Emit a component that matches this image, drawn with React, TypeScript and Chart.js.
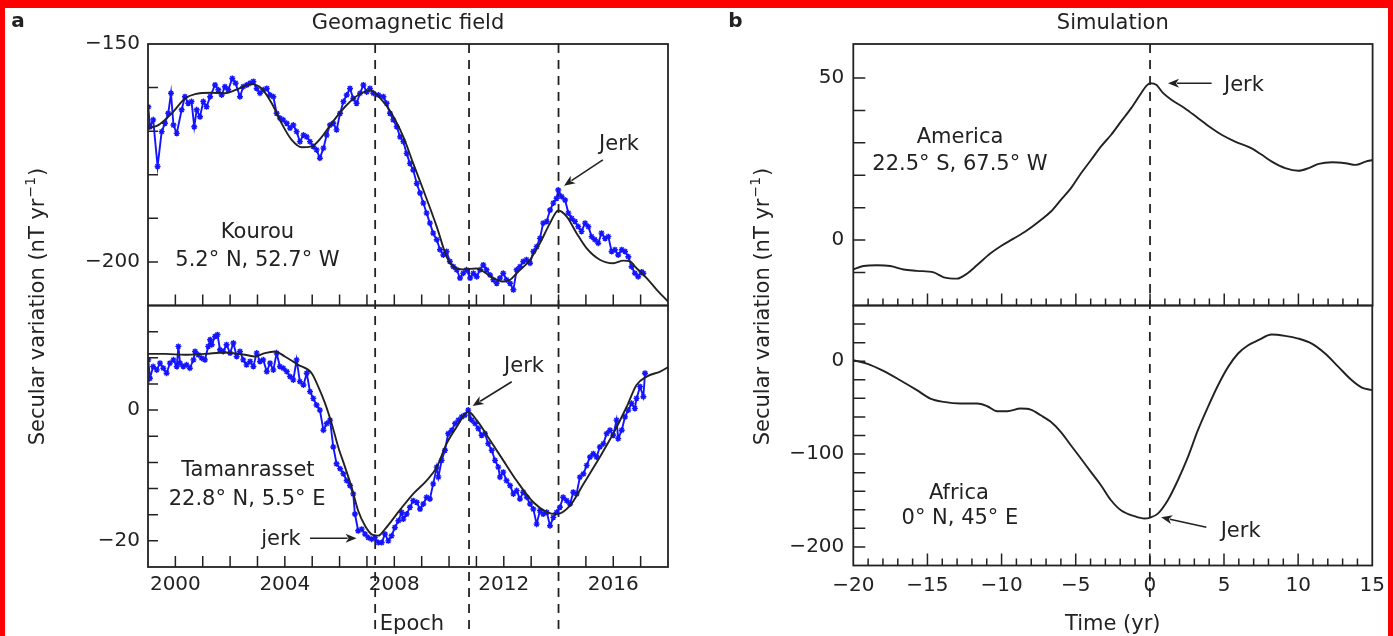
import React, { useEffect, useRef } from 'react';
import { Chart, registerables } from 'chart.js';

Chart.register(...registerables);

const PAGE_W = 1393;
const PAGE_H = 636;
const FONT = '"DejaVu Sans", "Liberation Sans", sans-serif';
const INK = '#222222';
const BLUE = '#1414ff';

type Pt = [number, number];

// ---------------- Panel a, top: Kourou ----------------
const kourouObs: Pt[] = [
  [1999.01, -164.4], [1999.07, -169.0], [1999.19, -167.4], [1999.35, -178.1], [1999.5, -170.1],
  [1999.62, -168.2], [1999.74, -165.9], [1999.84, -161.3], [1999.93, -168.6], [2000.05, -170.5],
  [2000.23, -165.1], [2000.35, -162.1], [2000.47, -163.6], [2000.59, -163.2], [2000.69, -169.0],
  [2000.78, -165.1], [2000.9, -166.7], [2001.02, -163.2], [2001.14, -164.4], [2001.27, -162.1],
  [2001.45, -159.4], [2001.57, -160.5], [2001.69, -161.7], [2001.81, -159.8], [2001.93, -160.5],
  [2002.08, -157.9], [2002.2, -159.0], [2002.36, -162.1], [2002.48, -159.8], [2002.61, -159.4],
  [2002.73, -159.0], [2002.85, -158.6], [2002.97, -160.2], [2003.09, -161.3], [2003.21, -160.5],
  [2003.34, -160.2], [2003.46, -161.7], [2003.58, -162.1], [2003.7, -165.9], [2003.82, -167.0],
  [2003.94, -167.4], [2004.07, -168.2], [2004.19, -169.3], [2004.31, -168.6], [2004.43, -170.1],
  [2004.55, -172.4], [2004.68, -170.9], [2004.8, -171.3], [2004.92, -172.4], [2005.04, -173.5],
  [2005.16, -174.3], [2005.28, -176.2], [2005.41, -173.9], [2005.53, -170.9], [2005.65, -168.6],
  [2005.77, -168.2], [2005.89, -169.7], [2006.02, -165.9], [2006.14, -163.2], [2006.26, -161.7],
  [2006.38, -160.2], [2006.5, -162.5], [2006.62, -163.6], [2006.75, -161.3], [2006.87, -159.4],
  [2006.99, -161.0], [2007.11, -160.2], [2007.23, -161.3], [2007.42, -161.7], [2007.6, -162.1],
  [2007.72, -163.6], [2007.84, -165.9], [2007.96, -167.4], [2008.09, -169.0], [2008.21, -171.3],
  [2008.33, -172.4], [2008.45, -175.1], [2008.57, -177.4], [2008.69, -178.9], [2008.82, -182.0],
  [2008.94, -184.2], [2009.06, -186.5], [2009.18, -188.8], [2009.3, -191.1], [2009.42, -193.4],
  [2009.55, -194.9], [2009.67, -197.2], [2009.79, -198.4], [2009.91, -197.6], [2010.03, -199.9],
  [2010.16, -201.1], [2010.28, -201.8], [2010.4, -203.7], [2010.52, -202.6], [2010.64, -201.8],
  [2010.77, -203.7], [2010.89, -202.6], [2011.01, -203.4], [2011.13, -201.8], [2011.25, -200.7],
  [2011.37, -201.8], [2011.5, -203.0], [2011.62, -204.1], [2011.74, -204.9], [2011.86, -203.7],
  [2011.98, -202.6], [2012.1, -204.1], [2012.23, -204.9], [2012.35, -206.4], [2012.47, -201.8],
  [2012.59, -201.1], [2012.71, -199.9], [2012.83, -199.5], [2012.96, -200.3], [2013.08, -197.6],
  [2013.2, -196.5], [2013.32, -194.6], [2013.44, -191.1], [2013.57, -190.7], [2013.69, -188.1],
  [2013.81, -186.5], [2013.93, -185.4], [2013.99, -183.5], [2014.11, -185.0], [2014.24, -185.8],
  [2014.36, -188.8], [2014.48, -190.0], [2014.6, -190.7], [2014.72, -191.9], [2014.84, -193.0],
  [2014.97, -191.1], [2015.09, -191.9], [2015.21, -194.2], [2015.33, -194.9], [2015.45, -195.7],
  [2015.57, -193.4], [2015.7, -194.6], [2015.82, -194.2], [2015.94, -197.6], [2016.06, -197.2],
  [2016.18, -198.4], [2016.31, -197.2], [2016.43, -197.6], [2016.55, -198.8], [2016.67, -201.1],
  [2016.79, -202.6], [2016.91, -203.4], [2017.04, -202.3], [2017.1, -202.6],
];

const kourouModel: Pt[] = [
  [1999.0, -169.3], [1999.38, -168.6], [1999.87, -165.9], [2000.35, -162.5], [2000.72, -161.5],
  [2001.33, -161.2], [2001.81, -161.3], [2002.18, -160.6], [2002.79, -159.2], [2003.15, -160.2],
  [2003.52, -163.6], [2003.88, -168.2], [2004.25, -172.0], [2004.62, -173.7], [2004.98, -173.5],
  [2005.35, -171.3], [2005.71, -168.2], [2006.2, -164.4], [2006.68, -161.7], [2007.17, -160.7],
  [2007.45, -162.2], [2007.84, -165.3], [2008.33, -171.3], [2008.69, -177.4], [2009.06, -183.5],
  [2009.55, -191.9], [2009.91, -198.8], [2010.15, -201.1], [2010.52, -201.7], [2011.01, -201.5],
  [2011.25, -202.2], [2011.62, -203.7], [2011.98, -204.5], [2012.23, -204.1], [2012.47, -202.6],
  [2012.96, -199.5], [2013.32, -195.7], [2013.69, -191.1], [2013.99, -188.2], [2014.3, -189.6],
  [2014.66, -193.4], [2015.03, -196.9], [2015.51, -199.5], [2016.0, -200.3], [2016.37, -199.7],
  [2016.61, -199.9], [2016.86, -201.5], [2017.22, -203.7], [2017.59, -206.4], [2018.0, -209.1],
];

// ---------------- Panel a, bottom: Tamanrasset ----------------
const tamObs: Pt[] = [
  [1999.01, 7.69], [1999.07, 4.87], [1999.19, 6.67], [1999.32, 6.15], [1999.44, 7.18],
  [1999.56, 6.41], [1999.68, 5.64], [1999.8, 7.18], [1999.93, 7.69], [2000.05, 6.67],
  [2000.11, 9.74], [2000.17, 7.18], [2000.29, 6.67], [2000.41, 6.92], [2000.53, 6.41],
  [2000.66, 7.69], [2000.72, 8.97], [2000.84, 8.46], [2000.96, 7.95], [2001.08, 7.69],
  [2001.2, 9.74], [2001.27, 10.77], [2001.33, 10.0], [2001.45, 11.28], [2001.54, 11.54],
  [2001.63, 9.23], [2001.75, 8.97], [2001.87, 10.0], [2002.0, 8.72], [2002.12, 10.26],
  [2002.24, 8.21], [2002.36, 8.97], [2002.48, 7.69], [2002.6, 6.92], [2002.73, 7.44],
  [2002.85, 6.67], [2002.97, 8.72], [2003.09, 7.44], [2003.21, 7.69], [2003.34, 5.9],
  [2003.46, 7.18], [2003.58, 6.15], [2003.7, 8.72], [2003.82, 6.67], [2003.94, 6.41],
  [2004.07, 5.9], [2004.19, 5.13], [2004.31, 4.62], [2004.43, 7.69], [2004.55, 4.36],
  [2004.68, 3.85], [2004.8, 5.64], [2004.92, 2.82], [2005.04, 1.79], [2005.16, 0.77],
  [2005.28, 0.0], [2005.41, -3.08], [2005.53, -2.05], [2005.65, -1.54], [2005.77, -5.64],
  [2005.89, -8.21], [2006.02, -8.97], [2006.14, -9.74], [2006.26, -10.77], [2006.38, -11.54],
  [2006.5, -12.82], [2006.56, -15.9], [2006.68, -18.46], [2006.81, -18.21], [2006.93, -18.97],
  [2007.05, -19.5], [2007.17, -19.74], [2007.29, -19.5], [2007.42, -20.26], [2007.54, -20.26],
  [2007.66, -18.97], [2007.78, -20.0], [2007.9, -19.23], [2008.02, -17.95], [2008.15, -16.92],
  [2008.27, -15.64], [2008.33, -16.67], [2008.45, -15.9], [2008.57, -14.87], [2008.69, -13.85],
  [2008.82, -14.1], [2008.94, -15.13], [2009.06, -14.36], [2009.18, -13.33], [2009.3, -13.59],
  [2009.42, -11.28], [2009.55, -8.72], [2009.61, -10.26], [2009.73, -7.69], [2009.85, -6.15],
  [2009.97, -3.59], [2010.1, -3.08], [2010.22, -2.05], [2010.34, -1.54], [2010.46, -1.03],
  [2010.58, -0.77], [2010.7, 0.0], [2010.83, -1.54], [2010.95, -2.05], [2011.07, -2.82],
  [2011.19, -3.85], [2011.31, -3.59], [2011.43, -5.13], [2011.56, -6.15], [2011.68, -7.69],
  [2011.8, -8.72], [2011.86, -10.26], [2011.98, -9.49], [2012.1, -10.77], [2012.23, -11.54],
  [2012.35, -12.82], [2012.47, -12.31], [2012.59, -13.59], [2012.71, -12.56], [2012.84, -13.33],
  [2012.96, -14.36], [2013.08, -15.13], [2013.2, -17.44], [2013.32, -15.38], [2013.44, -15.9],
  [2013.57, -15.64], [2013.69, -17.69], [2013.81, -16.41], [2013.93, -15.64], [2014.05, -14.87],
  [2014.17, -13.33], [2014.3, -13.85], [2014.42, -14.36], [2014.54, -12.56], [2014.66, -12.82],
  [2014.78, -10.26], [2014.91, -9.74], [2015.03, -8.46], [2015.15, -7.18], [2015.27, -6.67],
  [2015.39, -7.18], [2015.51, -5.64], [2015.64, -5.13], [2015.76, -3.59], [2015.88, -3.08],
  [2016.0, -3.85], [2016.12, -1.54], [2016.18, -4.36], [2016.31, -3.08], [2016.43, -1.03],
  [2016.55, 0.0], [2016.67, 1.03], [2016.79, 0.26], [2016.85, 1.79], [2016.98, 3.59],
  [2017.1, 2.05], [2017.16, 5.64],
];

const tamModel: Pt[] = [
  [1999.0, 8.6], [1999.62, 8.6], [2000.35, 8.46], [2001.08, 8.6], [2001.81, 8.82],
  [2002.54, 8.46], [2002.91, 8.2], [2003.27, 8.72], [2003.64, 8.97], [2004.0, 8.2],
  [2004.49, 6.92], [2004.98, 5.64], [2005.22, 3.59], [2005.47, 1.03], [2005.71, -2.05],
  [2005.95, -5.64], [2006.2, -8.72], [2006.44, -11.8], [2006.68, -15.4], [2006.93, -17.7],
  [2007.17, -19.0], [2007.41, -19.2], [2007.66, -18.2], [2008.2, -15.3], [2008.69, -12.8],
  [2009.18, -10.8], [2009.55, -8.72], [2009.91, -5.13], [2010.28, -2.56], [2010.7, -0.26],
  [2011.01, -1.54], [2011.5, -4.62], [2011.98, -7.69], [2012.47, -10.8], [2013.08, -14.1],
  [2013.57, -15.6], [2013.93, -15.9], [2014.42, -14.6], [2014.91, -11.3], [2015.51, -7.18],
  [2016.0, -3.59], [2016.49, 0.51], [2016.85, 3.85], [2017.22, 5.13], [2017.71, 5.9],
  [2018.0, 6.56],
];

// ---------------- Panel b: simulation ----------------
const americaSim: Pt[] = [
  [-20, -9.1], [-19.32, -8.0], [-18.42, -7.8], [-17.51, -8.0], [-16.61, -9.1], [-15.71, -9.5],
  [-14.58, -10.0], [-13.9, -11.5], [-13.0, -11.9], [-12.32, -10.3], [-11.65, -7.7], [-10.75, -4.1],
  [-10.07, -1.9], [-9.17, 0.5], [-8.26, 3.1], [-7.36, 6.2], [-6.68, 8.8], [-6.01, 12.4],
  [-5.33, 16.0], [-4.65, 20.6], [-3.98, 24.7], [-3.3, 28.9], [-2.62, 32.5], [-1.95, 36.6],
  [-1.27, 40.7], [-0.59, 45.4], [-0.25, 47.6], [0.02, 48.4], [0.42, 47.9], [0.87, 45.4],
  [1.44, 43.3], [2.34, 40.7], [3.24, 37.6], [4.15, 34.5], [4.82, 32.5], [5.73, 30.4],
  [6.85, 28.3], [7.53, 26.3], [8.21, 24.2], [9.11, 22.2], [10.01, 21.4], [10.69, 22.2],
  [11.37, 23.5], [12.27, 24.0], [13.17, 23.7], [13.85, 23.2], [14.53, 24.2], [15.0, 24.7],
];

const africaSim: Pt[] = [
  [-20, 1.0], [-19.09, -2.5], [-17.97, -10.4], [-16.84, -20.5], [-15.71, -31.2], [-14.81, -40.2],
  [-13.9, -43.8], [-12.78, -45.6], [-11.65, -45.6], [-10.97, -48.5], [-10.29, -53.9], [-9.62, -53.9],
  [-8.71, -51.0], [-8.04, -52.1], [-7.36, -58.2], [-6.68, -65.3], [-6.01, -76.1], [-5.33, -90.5],
  [-4.65, -104.8], [-3.98, -119.2], [-3.3, -133.5], [-2.62, -149.7], [-1.95, -160.5], [-1.04, -166.9],
  [-0.37, -169.4], [0.02, -168.4], [0.54, -164.1], [1.21, -149.7], [1.89, -128.2], [2.57, -103.0],
  [3.24, -74.3], [3.92, -49.2], [4.6, -25.9], [5.28, -6.1], [5.95, 8.3], [6.63, 17.2],
  [7.31, 22.6], [8.21, 28.7], [9.11, 27.3], [10.01, 24.4], [10.92, 19.0], [11.82, 8.3],
  [12.72, -6.1], [13.62, -20.5], [14.3, -28.4], [15.0, -31.2],
];

// ---------------- Ticks ----------------
const yearTicks = [2000, 2001, 2002, 2003, 2004, 2005, 2006, 2007, 2008, 2009, 2010, 2011, 2012, 2013, 2014, 2015, 2016, 2017];
const yearLabels = [2000, 2004, 2008, 2012, 2016];
const jerkEpochs = [2007.3, 2010.73, 2014.0];
const timeTicks = [-20, -19, -18, -17, -16, -15, -14, -13, -12, -11, -10, -9, -8, -7, -6, -5, -4, -3, -2, -1, 0,
  1, 2, 3, 4, 5, 6, 7, 8, 9, 10, 11, 12, 13, 14, 15];
const timeLabels = [-20, -15, -10, -5, 0, 5, 10, 15];
const simJerk = [0];
const kourouTicks = [-200, -190, -180, -170, -160, -150];
const kourouLabels = [-200, -150];
const tamTicks = [-20, -16, -12, -8, -4, 0, 4, 8, 12];
const tamLabels = [-20, 0];
const americaTicks = [-10, 0, 10, 20, 30, 40, 50];
const americaLabels = [0, 50];
const africaTicks = [-200, -180, -160, -140, -120, -100, -80, -60, -40, -20, 0, 20, 40];
const africaLabels = [-200, -100, 0];

const fmt = (v: number) => (v < 0 ? '\u2212' + Math.abs(v) : String(v));

type Ann =
  | { kind: 'text'; x: number; y: number; text: string }
  | { kind: 'arrow'; x1: number; y1: number; x2: number; y2: number };

interface Series { points: Pt[]; color: string; width: number; marker: boolean; order: number }

interface Spec {
  area: { l: number; r: number; t: number; b: number };
  xMin: number; xMax: number; yMin: number; yMax: number;
  showX: boolean;
  xTicks: number[]; xLabels: number[]; xPad: number; xTickLen: (v: number) => number;
  yTicks: number[]; yLabels: number[]; yPad: number; yTickLen: number;
  series: Series[];
  dashes: number[]; dashFrom: number; dashTo: number; clipTop: number; clipBottom: number;
  anns: Ann[];
  extra?: (ctx: CanvasRenderingContext2D, chart: any) => void;
}

function capText(ctx: CanvasRenderingContext2D, s: string, x: number, yCenter: number, size: number, align: CanvasTextAlign = 'center', bold = false) {
  ctx.font = `${bold ? 'bold ' : ''}${size}px ${FONT}`;
  ctx.textAlign = align;
  ctx.textBaseline = 'alphabetic';
  ctx.fillText(s, x, yCenter + size * 0.36);
}

function arrow(ctx: CanvasRenderingContext2D, x1: number, y1: number, x2: number, y2: number) {
  const ang = Math.atan2(y2 - y1, x2 - x1);
  const hl = 11, hw = 4.5;
  const bx = x2 - hl * Math.cos(ang), by = y2 - hl * Math.sin(ang);
  ctx.lineWidth = 1.6;
  ctx.beginPath();
  ctx.moveTo(x1, y1);
  ctx.lineTo(bx + 2 * Math.cos(ang), by + 2 * Math.sin(ang));
  ctx.stroke();
  ctx.beginPath();
  ctx.moveTo(x2, y2);
  ctx.lineTo(bx + hw * Math.sin(ang), by - hw * Math.cos(ang));
  ctx.lineTo(bx + 3 * Math.cos(ang), by + 3 * Math.sin(ang));
  ctx.lineTo(bx - hw * Math.sin(ang), by + hw * Math.cos(ang));
  ctx.closePath();
  ctx.fill();
}

function yTitle(ctx: CanvasRenderingContext2D, cx: number, cy: number, size: number) {
  ctx.save();
  ctx.translate(cx, cy);
  ctx.rotate(-Math.PI / 2);
  const main = 'Secular variation (nT yr';
  const sup = '\u22121';
  const end = ')';
  const big = `${size}px ${FONT}`;
  const small = `${Math.round(size * 0.65)}px ${FONT}`;
  ctx.font = big;
  const w1 = ctx.measureText(main).width;
  const w3 = ctx.measureText(end).width;
  ctx.font = small;
  const w2 = ctx.measureText(sup).width;
  const x0 = -(w1 + w2 + w3) / 2;
  const base = size * 0.36;
  ctx.textAlign = 'left';
  ctx.textBaseline = 'alphabetic';
  ctx.font = big;
  ctx.fillText(main, x0, base);
  ctx.font = small;
  ctx.fillText(sup, x0 + w1 + 1, base - size * 0.42);
  ctx.font = big;
  ctx.fillText(end, x0 + w1 + w2 + 2, base);
  ctx.restore();
}

function makePlugin(spec: Spec) {
  return {
    id: 'decor',
    beforeDatasetsDraw(chart: any) {
      const ctx: CanvasRenderingContext2D = chart.ctx;
      const x = chart.scales.x;
      ctx.save();
      ctx.beginPath();
      ctx.rect(0, spec.clipTop, PAGE_W, spec.clipBottom - spec.clipTop);
      ctx.clip();
      ctx.strokeStyle = INK;
      ctx.lineWidth = 1.8;
      ctx.setLineDash([9, 7]);
      for (const v of spec.dashes) {
        const px = x.getPixelForValue(v);
        ctx.beginPath();
        ctx.moveTo(px, spec.dashFrom);
        ctx.lineTo(px, spec.dashTo);
        ctx.stroke();
      }
      ctx.restore();
    },
    afterDatasetsDraw(chart: any) {
      const ctx: CanvasRenderingContext2D = chart.ctx;
      const a = chart.chartArea;
      const x = chart.scales.x, y = chart.scales.y;
      ctx.save();
      ctx.strokeStyle = INK;
      ctx.fillStyle = INK;
      ctx.setLineDash([]);
      ctx.lineWidth = 1.8;
      ctx.strokeRect(a.left, a.top, a.right - a.left, a.bottom - a.top);
      ctx.lineWidth = 1.5;
      ctx.beginPath();
      for (const v of spec.xTicks) {
        if (v <= spec.xMin || v >= spec.xMax) continue;
        const px = x.getPixelForValue(v);
        ctx.moveTo(px, a.bottom);
        ctx.lineTo(px, a.bottom - spec.xTickLen(v));
      }
      for (const v of spec.yTicks) {
        if (v <= spec.yMin || v >= spec.yMax) continue;
        const py = y.getPixelForValue(v);
        ctx.moveTo(a.left, py);
        ctx.lineTo(a.left + spec.yTickLen, py);
      }
      ctx.stroke();
      for (const an of spec.anns) {
        if (an.kind === 'text') {
          capText(ctx, an.text, x.getPixelForValue(an.x), y.getPixelForValue(an.y), 21);
        } else {
          arrow(ctx, x.getPixelForValue(an.x1), y.getPixelForValue(an.y1), x.getPixelForValue(an.x2), y.getPixelForValue(an.y2));
        }
      }
      if (spec.extra) spec.extra(ctx, chart);
      ctx.restore();
    },
  };
}

const Y_W = 70;
const X_H = 40;

function buildConfig(spec: Spec): any {
  const { area } = spec;
  return {
    type: 'line',
    data: {
      datasets: spec.series.map((s) => ({
        data: s.points.map(([px, py]) => ({ x: px, y: py })),
        borderColor: s.color,
        borderWidth: s.width,
        pointRadius: s.marker ? 3 : 0,
        pointStyle: 'star',
        pointBorderColor: s.color,
        pointBackgroundColor: s.color,
        pointBorderWidth: 1.4,
        cubicInterpolationMode: s.marker ? 'default' : 'monotone',
        tension: 0,
        fill: false,
        order: s.order,
      })),
    },
    options: {
      animation: false,
      responsive: false,
      devicePixelRatio: 1,
      events: [],
      layout: {
        padding: {
          left: area.l - Y_W,
          right: PAGE_W - area.r,
          top: area.t,
          bottom: PAGE_H - area.b - (spec.showX ? X_H : 0),
        },
      },
      plugins: { legend: { display: false }, tooltip: { enabled: false } },
      scales: {
        x: {
          type: 'linear',
          min: spec.xMin,
          max: spec.xMax,
          display: spec.showX,
          afterBuildTicks: (s: any) => { s.ticks = spec.xTicks.map((v) => ({ value: v })); },
          afterFit: (s: any) => { s.height = spec.showX ? X_H : 0; },
          grid: { display: false, drawTicks: false },
          border: { display: false },
          ticks: {
            autoSkip: false,
            maxRotation: 0,
            padding: spec.xPad,
            color: INK,
            font: { family: FONT, size: 20 },
            callback: (v: number) => (spec.xLabels.includes(v) ? fmt(v) : ''),
          },
        },
        y: {
          type: 'linear',
          position: 'left',
          min: spec.yMin,
          max: spec.yMax,
          afterBuildTicks: (s: any) => { s.ticks = spec.yTicks.map((v) => ({ value: v })); },
          afterFit: (s: any) => { s.width = Y_W; },
          grid: { display: false, drawTicks: false },
          border: { display: false },
          ticks: {
            autoSkip: false,
            padding: spec.yPad,
            color: INK,
            font: { family: FONT, size: 20 },
            callback: (v: number) => (spec.yLabels.includes(v) ? fmt(v) : ''),
          },
        },
      },
    },
    plugins: [makePlugin(spec)],
  };
}

const A_L = 148, A_R = 668;
const B_L = 853.3, B_R = 1372.6;
const TOP = 44, MID = 305.5;

const specs: Spec[] = [
  {
    area: { l: A_L, r: A_R, t: TOP, b: MID },
    xMin: 1999, xMax: 2018, yMin: -210, yMax: -150, showX: false,
    xTicks: yearTicks, xLabels: [], xPad: 6, xTickLen: () => 11,
    yTicks: kourouTicks, yLabels: kourouLabels, yPad: 8, yTickLen: 10,
    series: [
      { points: kourouObs, color: BLUE, width: 1.9, marker: true, order: 2 },
      { points: kourouModel, color: INK, width: 1.9, marker: false, order: 1 },
    ],
    dashes: jerkEpochs, dashFrom: TOP, dashTo: PAGE_H, clipTop: TOP, clipBottom: MID,
    anns: [
      { kind: 'text', x: 2016.21, y: -172.7, text: 'Jerk' },
      { kind: 'arrow', x1: 2015.62, y1: -176.6, x2: 2014.2, y2: -182.5 },
      { kind: 'text', x: 2003.0, y: -192.7, text: 'Kourou' },
      { kind: 'text', x: 2003.0, y: -199.3, text: '5.2\u00b0 N, 52.7\u00b0 W' },
    ],
  },
  {
    area: { l: A_L, r: A_R, t: MID, b: 567 },
    xMin: 1999, xMax: 2018, yMin: -24, yMax: 16, showX: true,
    xTicks: yearTicks, xLabels: yearLabels, xPad: 6, xTickLen: () => 11,
    yTicks: tamTicks, yLabels: tamLabels, yPad: 8, yTickLen: 10,
    series: [
      { points: tamObs, color: BLUE, width: 1.9, marker: true, order: 2 },
      { points: tamModel, color: INK, width: 1.9, marker: false, order: 1 },
    ],
    dashes: jerkEpochs, dashFrom: TOP, dashTo: PAGE_H, clipTop: MID, clipBottom: PAGE_H,
    anns: [
      { kind: 'text', x: 2012.74, y: 7.05, text: 'Jerk' },
      { kind: 'arrow', x1: 2012.29, y1: 4.34, x2: 2010.86, y2: 0.63 },
      { kind: 'text', x: 2002.65, y: -8.86, text: 'Tamanrasset' },
      { kind: 'text', x: 2002.62, y: -13.3, text: '22.8\u00b0 N, 5.5\u00b0 E' },
      { kind: 'text', x: 2003.86, y: -19.45, text: 'jerk' },
      { kind: 'arrow', x1: 2004.92, y1: -19.6, x2: 2006.62, y2: -19.6 },
    ],
    extra: (ctx, chart) => {
      const a = chart.chartArea;
      capText(ctx, 'a', a.left - 130, 20, 20, 'center', true);
      capText(ctx, 'Geomagnetic field', (a.left + a.right) / 2, 21, 21);
      yTitle(ctx, a.left - 112, 307.5, 21);
      capText(ctx, 'Epoch', 412, 622, 21);
    },
  },
  {
    area: { l: B_L, r: B_R, t: TOP, b: MID },
    xMin: -20, xMax: 15, yMin: -20.2, yMax: 60.5, showX: false,
    xTicks: timeTicks, xLabels: [], xPad: 8, xTickLen: (v) => (v % 5 === 0 ? 12 : 7),
    yTicks: americaTicks, yLabels: americaLabels, yPad: 9, yTickLen: 12,
    series: [{ points: americaSim, color: INK, width: 1.9, marker: false, order: 1 }],
    dashes: simJerk, dashFrom: TOP, dashTo: 602, clipTop: TOP, clipBottom: MID,
    anns: [
      { kind: 'text', x: 6.33, y: 48.46, text: 'Jerk' },
      { kind: 'arrow', x1: 4.15, y1: 48.37, x2: 1.21, y2: 48.37 },
      { kind: 'text', x: -12.81, y: 32.42, text: 'America' },
      { kind: 'text', x: -12.81, y: 24.08, text: '22.5\u00b0 S, 67.5\u00b0 W' },
    ],
  },
  {
    area: { l: B_L, r: B_R, t: MID, b: 565.5 },
    xMin: -20, xMax: 15, yMin: -220, yMax: 60, showX: true,
    xTicks: timeTicks, xLabels: timeLabels, xPad: 8, xTickLen: (v) => (v % 5 === 0 ? 12 : 7),
    yTicks: africaTicks, yLabels: africaLabels, yPad: 9, yTickLen: 12,
    series: [{ points: africaSim, color: INK, width: 1.9, marker: false, order: 1 }],
    dashes: simJerk, dashFrom: TOP, dashTo: 602, clipTop: MID, clipBottom: 602,
    anns: [
      { kind: 'text', x: -12.88, y: -140.5, text: 'Africa' },
      { kind: 'text', x: -12.81, y: -167.4, text: '0\u00b0 N, 45\u00b0 E' },
      { kind: 'text', x: 6.12, y: -180.7, text: 'Jerk' },
      { kind: 'arrow', x1: 3.81, y1: -178.9, x2: 0.76, y2: -168.1 },
    ],
    extra: (ctx, chart) => {
      const a = chart.chartArea;
      capText(ctx, 'b', a.left - 118, 20, 20, 'center', true);
      capText(ctx, 'Simulation', (a.left + a.right) / 2, 21, 21);
      yTitle(ctx, a.left - 92, 307.5, 21);
      capText(ctx, 'Time (yr)', (a.left + a.right) / 2, 622, 21);
    },
  },
];

function Panel({ spec }: { spec: Spec }) {
  const ref = useRef<HTMLCanvasElement | null>(null);
  useEffect(() => {
    if (!ref.current) return;
    const chart = new Chart(ref.current, buildConfig(spec));
    return () => chart.destroy();
  }, [spec]);
  return (
    <canvas
      ref={ref}
      width={PAGE_W}
      height={PAGE_H}
      style={{ position: 'absolute', left: 0, top: 0, width: PAGE_W, height: PAGE_H }}
    />
  );
}

export default function App() {
  return (
    <div style={{ position: 'absolute', left: 0, top: 0, width: PAGE_W, height: PAGE_H, background: '#ffffff', overflow: 'hidden' }}>
      {specs.map((s, i) => (
        <Panel key={i} spec={s} />
      ))}
      <div
        style={{
          position: 'absolute', left: 0, top: 0, width: PAGE_W, height: PAGE_H, boxSizing: 'border-box',
          borderTop: '8px solid #ff0000', borderLeft: '5px solid #ff0000', borderRight: '5px solid #ff0000',
          pointerEvents: 'none',
        }}
      />
    </div>
  );
}
